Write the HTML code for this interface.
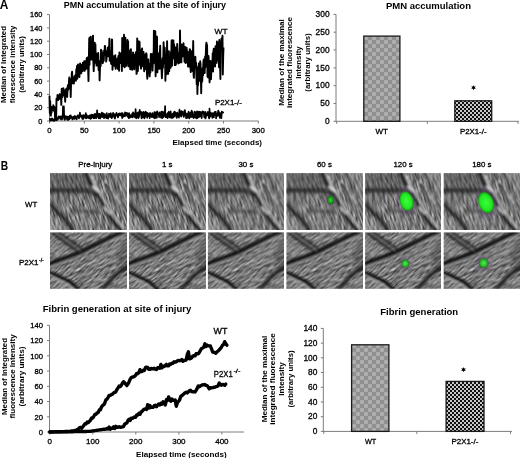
<!DOCTYPE html>
<html><head><meta charset="utf-8"><style>
html,body{margin:0;padding:0;background:#fff;}
svg{display:block;will-change:transform;}
text{font-family:"Liberation Sans",sans-serif;fill:#000;}
.r{stroke:#000;stroke-width:0.3px;}
</style></head><body>
<svg width="520" height="458" viewBox="0 0 520 458">
<defs>
<pattern id="pg" width="8" height="8" patternUnits="userSpaceOnUse"><rect width="8" height="8" fill="#909090"/><rect width="4" height="4" fill="#aaaaaa"/><rect x="4" y="4" width="4" height="4" fill="#aaaaaa"/><rect x="1" y="1" width="2" height="2" fill="#b4b4b4"/><rect x="5" y="5" width="2" height="2" fill="#b4b4b4"/></pattern>
<pattern id="pk" width="4" height="4" patternUnits="userSpaceOnUse"><rect width="4" height="4" fill="#c8c8c8"/><rect width="2" height="2" fill="#111"/><rect x="2" y="2" width="2" height="2" fill="#111"/></pattern>
<radialGradient id="gg"><stop offset="0" stop-color="#3cff3c"/><stop offset="0.75" stop-color="#22e622"/><stop offset="1" stop-color="#128c12"/></radialGradient>
<radialGradient id="gd"><stop offset="0" stop-color="#44c844"/><stop offset="0.6" stop-color="#1f9a1f"/><stop offset="1" stop-color="#176617"/></radialGradient>
<radialGradient id="gm"><stop offset="0" stop-color="#5ae65a"/><stop offset="0.6" stop-color="#2cc02c"/><stop offset="1" stop-color="#1a7a1a"/></radialGradient>
<filter id="pb" x="0" y="0" width="100%" height="100%"><feGaussianBlur stdDeviation="0.7"/></filter>
<filter id="bl1" x="-50%" y="-50%" width="200%" height="200%"><feGaussianBlur stdDeviation="0.6"/></filter>
<filter id="bl2" x="-50%" y="-50%" width="200%" height="200%"><feGaussianBlur stdDeviation="1.5"/></filter>
<filter id="n0" x="0" y="0" width="100%" height="100%" color-interpolation-filters="sRGB"><feTurbulence type="fractalNoise" baseFrequency="1.3 0.11" numOctaves="2" seed="5"/><feColorMatrix type="matrix" values="1 0 0 0 0  1 0 0 0 0  1 0 0 0 0  0 0 0 0 1" result="g"/><feConvolveMatrix order="3" kernelMatrix="0.6 0 0  0 0.5 0  0 0 -0.6" divisor="1" bias="0.235" preserveAlpha="true"/></filter>
<filter id="n1" x="0" y="0" width="100%" height="100%" color-interpolation-filters="sRGB"><feTurbulence type="fractalNoise" baseFrequency="1.5 0.11" numOctaves="2" seed="11"/><feColorMatrix type="matrix" values="1 0 0 0 0  1 0 0 0 0  1 0 0 0 0  0 0 0 0 1" result="g"/><feConvolveMatrix order="3" kernelMatrix="0.6 0 0  0 0.5 0  0 0 -0.6" divisor="1" bias="0.235" preserveAlpha="true"/></filter>
<filter id="sb" x="-10%" y="-10%" width="120%" height="120%"><feGaussianBlur stdDeviation="1.1"/></filter>
<filter id="sb2"><feGaussianBlur stdDeviation="4"/></filter>
<filter id="sb3" x="-10%" y="-20%" width="120%" height="140%"><feGaussianBlur stdDeviation="1.6"/></filter>
<clipPath id="tc"><rect width="76.3" height="56.5"/></clipPath>
<g id="tile0"><g transform="rotate(-16 38 28)"><rect x="-40" y="-40" width="160" height="140" filter="url(#n0)"/></g>
<g filter="url(#sb2)" opacity="0.45"><path d="M-5 -5 L45 -5 L40 22 L-5 22 Z" fill="#4a4a4a"/><path d="M-5 42 L-5 62 L16 62 Z" fill="#c8c8c8"/><path d="M60 -5 L82 -5 L82 30 Z" fill="#9a9a9a"/></g>
<g filter="url(#sb3)" fill="none" stroke-linecap="round" opacity="0.8">
<path d="M-1 17 L38 17.5 L46 21" stroke="#222" stroke-width="4.5"/>
<path d="M22 37.4 L48.9 38.9" stroke="#3c3c3c" stroke-width="2.5"/>
</g>
<g filter="url(#sb)" fill="none" stroke-linecap="round" opacity="0.9">
<path d="M36 0 L41.5 12 L48.9 24 L56.3 38 L64 49.2 L71 57" stroke="#111" stroke-width="3.2"/>
<path d="M39.5 0 L45 11 L52.5 23 L59.8 36 L67.5 47 L74.5 55" stroke="#d0d0d0" stroke-width="1.4"/>
<path d="M38.5 9.8 L49.3 22.5" stroke="#2a2a2a" stroke-width="1.8"/>
<path d="M51.5 0 L62.8 30" stroke="#333" stroke-width="1.5"/>
<path d="M60 0 L72 28 L77 37" stroke="#333" stroke-width="1.5"/>
<path d="M-1 30 L4.4 35.9 L14.8 46.3 L22.2 57" stroke="#141414" stroke-width="3"/>
<path d="M1 27 L7 34 L17 45 L24 56" stroke="#3a3a3a" stroke-width="1.2"/>
<path d="M43.3 13.5 L48.5 18" stroke="#f0f0f0" stroke-width="2.2"/>
<circle cx="42.5" cy="4.1" r="1.3" fill="#eee" stroke="none"/>
<circle cx="56" cy="8.3" r="1.2" fill="#e8e8e8" stroke="none"/>
<path d="M54 34 L60 40" stroke="#e0e0e0" stroke-width="1.6"/>
<path d="M66 22 L70 30" stroke="#d8d8d8" stroke-width="1.4"/>
</g></g>
<g id="tile1"><g transform="rotate(55 38 28)"><rect x="-40" y="-40" width="160" height="140" filter="url(#n1)"/></g>
<g filter="url(#sb2)" opacity="0.5"><path d="M68 10 L80 8 L80 40 L68 36 Z" fill="#404040"/></g>
<g filter="url(#sb)" fill="none" stroke-linecap="round" opacity="0.95">
<path d="M-2 35 L29.6 23.2 L48.9 13.6 L66.7 4.7 L79 -0.5" stroke="#c8c8c8" stroke-width="1.6"/>
<path d="M-2 32.6 L29.6 20.7 L48.9 11.1 L66.7 2.2 L79 -3" stroke="#080808" stroke-width="4.8"/>
<path d="M3 1 L29.6 19.8" stroke="#151515" stroke-width="2.8"/>
<path d="M7 -1 L31 16" stroke="#1a1a1a" stroke-width="2.6"/>
<path d="M5 0 L30 18" stroke="#9a9a9a" stroke-width="0.8"/>
<path d="M-2 39.8 L19.3 49.4 L28.6 58" stroke="#101010" stroke-width="3.8"/>
<path d="M-2 42.8 L17 52.5 L24 58" stroke="#c0c0c0" stroke-width="1.2"/>
<path d="M78 34 L63.7 44.4 L51.9 58" stroke="#1a1a1a" stroke-width="3.6"/>
</g></g>
</defs>
<text x="-0.3" y="8.7" font-size="12.5" font-weight="bold" textLength="8.6" lengthAdjust="spacingAndGlyphs">A</text>
<text x="63.8" y="7.8" font-size="9" font-weight="bold" textLength="162.3" lengthAdjust="spacingAndGlyphs">PMN accumulation at the site of injury</text>
<path d="M49.5 14.6V121.5M49.5 121H258.5" stroke="#7c7c7c" stroke-width="1" fill="none"/>
<text x="42.4" y="123.6" font-size="7.4" class="r" text-anchor="end">0</text>
<text x="42.4" y="110.3" font-size="7.4" class="r" text-anchor="end">20</text>
<text x="42.4" y="97" font-size="7.4" class="r" text-anchor="end">40</text>
<text x="42.4" y="83.7" font-size="7.4" class="r" text-anchor="end">60</text>
<text x="42.4" y="70.4" font-size="7.4" class="r" text-anchor="end">80</text>
<text x="42.4" y="57.1" font-size="7.4" class="r" text-anchor="end">100</text>
<text x="42.4" y="43.8" font-size="7.4" class="r" text-anchor="end">120</text>
<text x="42.4" y="30.5" font-size="7.4" class="r" text-anchor="end">140</text>
<text x="42.4" y="17.2" font-size="7.4" class="r" text-anchor="end">160</text>
<text x="49.5" y="133.4" font-size="7.8" class="r" text-anchor="middle">0</text>
<text x="84.3" y="133.4" font-size="7.8" class="r" text-anchor="middle">50</text>
<text x="119.1" y="133.4" font-size="7.8" class="r" text-anchor="middle">100</text>
<text x="153.9" y="133.4" font-size="7.8" class="r" text-anchor="middle">150</text>
<text x="188.7" y="133.4" font-size="7.8" class="r" text-anchor="middle">200</text>
<text x="223.5" y="133.4" font-size="7.8" class="r" text-anchor="middle">250</text>
<text x="258.3" y="133.4" font-size="7.8" class="r" text-anchor="middle">300</text>
<path d="M47 121H49.5M47 107.7H49.5M47 94.4H49.5M47 81.1H49.5M47 67.8H49.5M47 54.5H49.5M47 41.2H49.5M47 27.9H49.5M47 14.6H49.5M49.5 121V123.5M84.3 121V123.5M119.1 121V123.5M153.9 121V123.5M188.7 121V123.5M223.5 121V123.5M258.3 121V123.5" stroke="#7c7c7c" stroke-width="1"/>
<text x="172.5" y="144.5" font-size="8" font-weight="bold" textLength="89.5" lengthAdjust="spacingAndGlyphs">Elapsed time (seconds)</text>
<text x="6.1" y="64.5" font-size="8" font-weight="bold" text-anchor="middle" textLength="77" lengthAdjust="spacingAndGlyphs" transform="rotate(-90 6.1 64.5)">Median of Integrated</text>
<text x="15.3" y="64.5" font-size="8" font-weight="bold" text-anchor="middle" textLength="77.7" lengthAdjust="spacingAndGlyphs" transform="rotate(-90 15.3 64.5)">florescence intensity</text>
<text x="24.3" y="64.5" font-size="8" font-weight="bold" text-anchor="middle" textLength="56.5" lengthAdjust="spacingAndGlyphs" transform="rotate(-90 24.3 64.5)">(arbitrary units)</text>
<polyline points="49.5,119.3 49.8,118.9 50.1,120.2 50.4,120.8 50.8,118.9 51.1,120.2 51.4,120.3 51.7,119.7 52,118.4 52.3,119.3 52.6,120.4 52.9,119.4 53.3,120.8 53.6,119.8 53.9,119.3 54.2,119.7 54.5,120.8 54.8,119.2 55.1,120 55.5,118.8 55.8,119.2 56.1,118.3 56.4,117.8 56.7,119.8 57,118.3 57.3,118.8 57.6,119.9 58,118.9 58.3,117 58.6,116.4 58.9,117.8 59.2,117.5 59.5,118.4 59.8,118.5 60.1,116.3 60.5,117.4 60.8,116.6 61.1,119.6 61.4,116.3 61.7,117.8 62,119.3 62.3,117.8 62.7,116.5 63,106.4 63.3,106.4 63.6,106.4 63.9,106.4 64.2,118.7 64.5,119.9 64.8,119.9 65.2,116 65.5,118.2 65.8,116.3 66.1,117.5 66.4,118.5 66.7,116.7 67,119.3 67.4,119.9 67.7,116.5 68,118.1 68.3,119.8 68.6,116.5 68.9,116.8 69.2,119 69.5,119.1 69.9,115.7 70.2,118.4 70.5,115.7 70.8,115.5 71.1,117.5 71.4,116.5 71.7,117.9 72.1,118 72.4,119.5 72.7,117.5 73,118.7 73.3,116.7 73.6,116.9 73.9,118.3 74.2,118.8 74.6,118.8 74.9,115.9 75.2,117 75.5,117 75.8,118.3 76.1,117.6 76.4,116.8 76.7,119.4 77.1,116.1 77.4,116.3 77.7,115.4 78,115.5 78.3,115.3 78.6,116.2 78.9,118.5 79.3,116.9 79.6,116.8 79.9,112.7 80.2,115.1 80.5,115.7 80.8,116.6 81.1,116.8 81.4,115.7 81.8,115.4 82.1,117.9 82.4,119 82.7,115.6 83,115.3 83.3,118.9 83.6,115.1 84,116.7 84.3,116.5 84.6,116.2 84.9,115.4 85.2,117.8 85.5,115.1 85.8,113.2 86.1,118.4 86.5,114.6 86.8,118.2 87.1,116.1 87.4,117.5 87.7,116 88,117.5 88.3,116.6 88.7,118.1 89,117 89.3,115.5 89.6,117.8 89.9,115.4 90.2,118.7 90.5,118.9 90.8,117.9 91.2,114.9 91.5,118.3 91.8,114.6 92.1,115.5 92.4,115.4 92.7,114.9 93,117.3 93.3,116.5 93.7,118.2 94,116.4 94.3,114.4 94.6,118.2 94.9,115.7 95.2,113.8 95.5,114.6 95.9,117 96.2,118.2 96.5,115 96.8,116.7 97.1,110.4 97.4,116.1 97.7,116.1 98,117 98.4,114 98.7,118.3 99,113.6 99.3,115.1 99.6,113.9 99.9,118.5 100.2,118.4 100.6,115.8 100.9,114.8 101.2,113.9 101.5,114.7 101.8,112.7 102.1,117.2 102.4,116.4 102.7,113.3 103.1,113.7 103.4,116.7 103.7,113.6 104,118.2 104.3,114 104.6,117.9 104.9,117.4 105.2,117.3 105.6,115.3 105.9,116.6 106.2,113.8 106.5,118.1 106.8,113.1 107.1,117.5 107.4,117.6 107.8,115.9 108.1,118.6 108.4,115.3 108.7,117.4 109,113.6 109.3,113.9 109.6,114.6 109.9,114.7 110.3,116.9 110.6,114.2 110.9,113.2 111.2,116.7 111.5,117.8 111.8,118.1 112.1,115.2 112.5,117 112.8,114.4 113.1,112.9 113.4,116.1 113.7,113.6 114,114.6 114.3,115.3 114.6,118.2 115,118.5 115.3,115.7 115.6,114.2 115.9,114.1 116.2,115.1 116.5,112.8 116.8,115.7 117.2,115.1 117.5,114.9 117.8,117.3 118.1,117.3 118.4,113.8 118.7,115 119,115.6 119.3,113.4 119.7,114.5 120,115 120.3,113.8 120.6,115.5 120.9,115.3 121.2,113.3 121.5,113.1 121.8,115.6 122.2,118.2 122.5,113 122.8,114.9 123.1,114.1 123.4,115.8 123.7,116.6 124,115.7 124.4,116.2 124.7,116.1 125,112.4 125.3,116 125.6,112.8 125.9,114 126.2,112.9 126.5,115.2 126.9,115.7 127.2,113.1 127.5,113.5 127.8,116 128.1,117.1 128.4,113.8 128.7,118.1 129.1,113.1 129.4,118 129.7,116.8 130,115.9 130.3,116.7 130.6,115 130.9,117.1 131.2,116.5 131.6,116.7 131.9,115.6 132.2,113.7 132.5,117.5 132.8,113.3 133.1,112.3 133.4,114.3 133.8,113.4 134.1,116.7 134.4,115.1 134.7,115.4 135,117.5 135.3,117.2 135.6,109 135.9,117.3 136.3,118.3 136.6,117.3 136.9,113 137.2,114.2 137.5,115.6 137.8,117.3 138.1,112.3 138.4,118.1 138.8,114.3 139.1,116.9 139.4,112.3 139.7,109.8 140,112.1 140.3,114.2 140.6,113.7 141,111.8 141.3,116.1 141.6,118.3 141.9,113.6 142.2,112.5 142.5,116 142.8,117.5 143.1,116.3 143.5,111.9 143.8,112.1 144.1,112.4 144.4,118.3 144.7,116.6 145,112.7 145.3,116.9 145.7,111.7 146,113.4 146.3,112.6 146.6,114.7 146.9,114.5 147.2,117.8 147.5,112.9 147.8,116.1 148.2,115.1 148.5,116.3 148.8,113.8 149.1,115.6 149.4,113.3 149.7,118.2 150,113.2 150.4,113.1 150.7,115 151,115.1 151.3,116.1 151.6,116.8 151.9,117.1 152.2,115 152.5,113 152.9,116.4 153.2,114.6 153.5,117.4 153.8,114.9 154.1,117.9 154.4,112 154.7,118.3 155,115.6 155.4,117.8 155.7,112.4 156,115 156.3,116 156.6,115.5 156.9,117.8 157.2,111.4 157.6,113.6 157.9,114.2 158.2,114 158.5,114.3 158.8,114.1 159.1,117.2 159.4,112.4 159.7,114.4 160.1,115.4 160.4,115.6 160.7,113.3 161,117.6 161.3,111.6 161.6,116.6 161.9,112.2 162.3,118.1 162.6,117 162.9,111.6 163.2,117.1 163.5,114.6 163.8,115.2 164.1,115.8 164.4,112.9 164.8,112.5 165.1,106 165.4,117.2 165.7,113.6 166,117.2 166.3,116.3 166.6,116.8 166.9,115 167.3,114.1 167.6,118.2 167.9,112.9 168.2,115.4 168.5,115.4 168.8,111.7 169.1,113 169.5,117.4 169.8,114 170.1,117.4 170.4,114.9 170.7,111.3 171,117.5 171.3,117.7 171.6,116 172,118.2 172.3,114 172.6,114.3 172.9,114.3 173.2,113.5 173.5,117.3 173.8,115.4 174.2,111.9 174.5,116.5 174.8,111.5 175.1,115.7 175.4,115.5 175.7,112.9 176,115.2 176.3,115.3 176.7,118 177,114.3 177.3,112.6 177.6,116.7 177.9,116.2 178.2,115.7 178.5,113.8 178.9,117.7 179.2,112.9 179.5,109.7 179.8,114.2 180.1,115.9 180.4,114.2 180.7,113.3 181,111.4 181.4,116.6 181.7,111.2 182,114 182.3,111.5 182.6,114.7 182.9,113.3 183.2,113.9 183.5,114.5 183.9,117 184.2,111 184.5,115.3 184.8,110 185.1,111.5 185.4,113.8 185.7,113 186.1,118.3 186.4,113.9 186.7,117.4 187,116 187.3,117.9 187.6,113.6 187.9,114 188.2,116.6 188.6,111.5 188.9,113.8 189.2,118.4 189.5,118 189.8,113.4 190.1,112.8 190.4,117.2 190.8,112.3 191.1,116.7 191.4,115.6 191.7,110.5 192,117.1 192.3,114.8 192.6,112 192.9,116.5 193.3,114.8 193.6,118.2 193.9,114.3 194.2,114.8 194.5,115.3 194.8,111.6 195.1,117.4 195.5,112.4 195.8,113.2 196.1,117 196.4,118.4 196.7,117.1 197,111.4 197.3,118.1 197.6,113.7 198,111.8 198.3,115.8 198.6,116.4 198.9,117.3 199.2,111.5 199.5,115.2 199.8,116.4 200.1,116.5 200.5,116.1 200.8,111.8 201.1,112.7 201.4,115.8 201.7,118.1 202,114 202.3,113.7 202.7,111.4 203,112.7 203.3,111.5 203.6,112.2 203.9,114 204.2,117.1 204.5,116.5 204.8,117.6 205.2,111.8 205.5,118.5 205.8,117.6 206.1,114.3 206.4,115.5 206.7,113.7 207,115.7 207.4,112 207.7,113.3 208,112.1 208.3,114.9 208.6,113.7 208.9,117.6 209.2,118.4 209.5,108.7 209.9,117 210.2,115.2 210.5,116.3 210.8,112.7 211.1,114.5 211.4,114.7 211.7,115.5 212.1,115.8 212.4,117.8 212.7,113 213,116.7 213.3,113.4 213.6,115.6 213.9,117.3 214.2,113.4 214.6,112.2 214.9,115.2 215.2,111.9 215.5,113.5 215.8,111.8 216.1,118.4 216.4,114.2 216.7,115 217.1,114.6 217.4,116 217.7,114.2 218,111.8 218.3,110.5 218.6,111.6 218.9,112.3 219.3,116.5 219.6,116.5 219.9,118 220.2,113.2 220.5,117.6 220.8,116.5 221.1,113.2 221.4,118.2 221.8,111.5 222.1,113 222.4,112.3 222.7,112.2 223,112.3 223.3,113.4" fill="none" stroke="#000" stroke-width="1.7" stroke-linejoin="round"/>
<polyline points="49.5,95.7 49.8,113 50.2,101 50.5,115 50.9,115.6 51.2,106.7 51.6,112.4 51.9,107.7 52.3,110 52.6,107.3 53,108.9 53.3,105.3 53.7,110.6 54,106.6 54.4,106.9 54.7,109.4 55.1,119 55.4,119.3 55.8,118.4 56.1,120.2 56.5,98.6 56.8,99.2 57.2,100.3 57.5,94.9 57.9,95.7 58.2,100.1 58.5,96.9 58.9,99.3 59.2,98.9 59.6,94.2 59.9,94.2 60.3,95.2 60.6,96.9 61,97.7 61.3,104.9 61.7,88.7 62,94.2 62.4,97.3 62.7,91 63.1,92.8 63.4,88.2 63.8,93.5 64.1,95 64.5,95.9 64.8,93.9 65.2,101.8 65.5,89.7 65.9,92.9 66.2,90.2 66.6,88.4 66.9,89.1 67.2,96.9 67.6,88.2 67.9,85.1 68.3,89.8 68.6,88.1 69,80.7 69.3,77.5 69.7,88.4 70,79 70.4,80.6 70.7,97 71.1,82.3 71.4,84.4 71.8,73.4 72.1,71.8 72.5,80.8 72.8,83 73.2,81.9 73.5,80.6 73.9,83.6 74.2,77.4 74.6,76.1 74.9,80.4 75.3,75.3 75.6,77.5 75.9,80.7 76.3,69.1 76.6,75 77,65.9 77.3,78.8 77.7,65.3 78,64.5 78.4,71.1 78.7,73 79.1,76.6 79.4,77.1 79.8,68 80.1,63.4 80.5,66.6 80.8,68 81.2,73.4 81.5,71.2 81.9,64.7 82.2,70 82.6,71.1 82.9,62.6 83.3,68.5 83.6,67.8 84,62.6 84.3,61.1 84.6,70.9 85,65.7 85.3,61.1 85.7,69.2 86,64.4 86.4,68.5 86.7,58.4 87.1,57.8 87.4,67.2 87.8,57.5 88.1,68.3 88.5,81.1 88.8,62.7 89.2,38.3 89.5,64.7 89.9,39 90.2,37.5 90.6,36.8 90.9,59.6 91.3,58.6 91.6,54.6 92,59.6 92.3,54.3 92.7,36.6 93,35.6 93.3,60 93.7,71.1 94,63.4 94.4,60.6 94.7,42.6 95.1,52.6 95.4,44.2 95.8,63 96.1,53.2 96.5,65.6 96.8,54.3 97.2,65.6 97.5,59.4 97.9,55.7 98.2,52.9 98.6,70.1 98.9,60.8 99.3,63.6 99.6,80.4 100,68.2 100.3,61.2 100.7,66 101,49.7 101.4,52.1 101.7,50.7 102,56.4 102.4,57.5 102.7,63.3 103.1,61.3 103.4,52.9 103.8,60.7 104.1,50.5 104.5,55 104.8,46 105.2,46.3 105.5,54.7 105.9,51.6 106.2,61.6 106.6,57.9 106.9,51.8 107.3,50.8 107.6,50.5 108,47.5 108.3,56.4 108.7,48.8 109,50.9 109.4,38.6 109.7,60.7 110.1,51.2 110.4,51.5 110.7,57.1 111.1,63.7 111.4,63.9 111.8,39.5 112.1,39.6 112.5,69.8 112.8,62.6 113.2,60.6 113.5,63.8 113.9,56.1 114.2,64.3 114.6,66 114.9,61.5 115.3,55.2 115.6,68.7 116,63.2 116.3,62.2 116.7,59.3 117,60.4 117.4,58.5 117.7,68.9 118.1,67.3 118.4,55.9 118.8,66 119.1,70.7 119.4,52.5 119.8,58.5 120.1,55.1 120.5,63.1 120.8,63 121.2,53.3 121.5,53 121.9,71 122.2,37.9 122.6,62.4 122.9,38.3 123.3,54.7 123.6,66.2 124,34.8 124.3,58.9 124.7,67.2 125,63.7 125.4,37.8 125.7,53.1 126.1,46.5 126.4,65.7 126.8,59.7 127.1,56.1 127.5,40 127.8,42.3 128.1,41.3 128.5,66.4 128.8,50.1 129.2,51.1 129.5,63.6 129.9,53.9 130.2,69.3 130.6,53.3 130.9,49.3 131.3,69 131.6,67.6 132,66.1 132.3,69.8 132.7,67.8 133,52.4 133.4,60.6 133.7,67.4 134.1,62.1 134.4,69.3 134.8,54.7 135.1,61.6 135.5,54.8 135.8,52.4 136.2,52 136.5,73.9 136.8,73 137.2,38.4 137.5,50.9 137.9,71.1 138.2,57.9 138.6,41.6 138.9,41.2 139.3,42.4 139.6,42 140,64.9 140.3,50.7 140.7,66.7 141,68.7 141.4,56.4 141.7,49.5 142.1,48.4 142.4,58.9 142.8,66.2 143.1,62.2 143.5,51.9 143.8,65.7 144.2,71.2 144.5,54.4 144.9,55.1 145.2,59 145.5,63.9 145.9,69.1 146.2,53.3 146.6,54.3 146.9,73.1 147.3,78.8 147.6,74.7 148,63.6 148.3,59.4 148.7,72.5 149,72.4 149.4,71.9 149.7,76.4 150.1,63.5 150.4,72.6 150.8,53.9 151.1,53.9 151.5,56.6 151.8,64.8 152.2,54.7 152.5,70.6 152.9,62.1 153.2,53.1 153.6,63.3 153.9,30.6 154.2,54.9 154.6,35.6 154.9,35.6 155.3,31.3 155.6,76.2 156,36.1 156.3,39.6 156.7,70.6 157,36.8 157.4,72.4 157.7,53.1 158.1,53.1 158.4,58.8 158.8,59.8 159.1,68.9 159.5,63.1 159.8,53.9 160.2,45.8 160.5,68.5 160.9,65.6 161.2,60 161.6,71.2 161.9,78.3 162.3,69.9 162.6,58 162.9,67.9 163.3,59.7 163.6,42.2 164,63 164.3,63 164.7,47.6 165,54.3 165.4,80.8 165.7,57.2 166.1,69.5 166.4,74.4 166.8,63.1 167.1,41.3 167.5,72.4 167.8,52.1 168.2,73.9 168.5,54.4 168.9,51.3 169.2,71.1 169.6,61.6 169.9,57.4 170.3,66.1 170.6,67.9 171,52 171.3,55.5 171.6,40.5 172,65.8 172.3,40.1 172.7,51 173,58.2 173.4,40.4 173.7,53.1 174.1,44.5 174.4,51 174.8,65.1 175.1,63.4 175.5,47.5 175.8,65 176.2,61.6 176.5,60.4 176.9,51.7 177.2,43.9 177.6,51.6 177.9,61.9 178.3,63.5 178.6,53.1 179,56.1 179.3,62.1 179.7,62.7 180,30.5 180.3,50.6 180.7,62 181,60.4 181.4,62.4 181.7,44.4 182.1,47 182.4,56.6 182.8,50.2 183.1,49.2 183.5,43.3 183.8,48.2 184.2,52.8 184.5,61.8 184.9,46.9 185.2,46.9 185.6,63.1 185.9,61.1 186.3,62.5 186.6,47.6 187,52.3 187.3,51.4 187.7,56.1 188,66.5 188.4,55.4 188.7,52.2 189,66.5 189.4,62.9 189.7,49.1 190.1,49.6 190.4,67 190.8,72.1 191.1,59.2 191.5,57.9 191.8,51.2 192.2,70.3 192.5,71 192.9,55.9 193.2,40.9 193.6,75.7 193.9,77.9 194.3,65.7 194.6,66.6 195,65.9 195.3,56.6 195.7,64.7 196,62.6 196.4,75.6 196.7,84.3 197.1,67.3 197.4,94 197.7,79.9 198.1,84.9 198.4,72.9 198.8,63.4 199.1,76.5 199.5,80.9 199.8,75.2 200.2,61.3 200.5,63.8 200.9,79.2 201.2,93.3 201.6,71 201.9,82.1 202.3,80.7 202.6,67.9 203,75.4 203.3,64.1 203.7,59.4 204,61 204.4,72.3 204.7,73.1 205.1,56.4 205.4,67.3 205.8,54.4 206.1,45.1 206.4,42.6 206.8,44.7 207.1,45.5 207.5,76.7 207.8,61 208.2,77.6 208.5,56 208.9,61.6 209.2,72.2 209.6,82.4 209.9,65.4 210.3,79.4 210.6,60.9 211,79.1 211.3,72.5 211.7,66.2 212,66.9 212.4,63.6 212.7,53.2 213.1,71.5 213.4,51.4 213.8,48.6 214.1,61.6 214.5,51.1 214.8,65.1 215.1,66.5 215.5,46.2 215.8,53.1 216.2,50.9 216.5,62.9 216.9,41.5 217.2,57.9 217.6,44 217.9,42.6 218.3,60.5 218.6,57.3 219,67.3 219.3,39.9 219.7,61.1 220,59.9 220.4,79.1 220.7,48 221.1,46.6 221.4,38.8 221.8,45.6 222.1,43.6 222.5,35.7 222.8,74.6 223.2,56.4 223.5,47.4" fill="none" stroke="#000" stroke-width="1.9" stroke-linejoin="round"/>
<text x="214.6" y="34.1" font-size="7.8" class="r" textLength="12.9" lengthAdjust="spacingAndGlyphs">WT</text>
<text x="214.9" y="105" font-size="7.8" class="r" textLength="26.9" lengthAdjust="spacingAndGlyphs">P2X1-/-</text>
<path d="M336 14.4V121.8M336 121.3H519" stroke="#7c7c7c" stroke-width="1" fill="none"/>
<text x="329.6" y="124" font-size="8.4" class="r" text-anchor="end">0</text>
<text x="329.6" y="106.2" font-size="8.4" class="r" text-anchor="end">50</text>
<text x="329.6" y="88.4" font-size="8.4" class="r" text-anchor="end">100</text>
<text x="329.6" y="70.6" font-size="8.4" class="r" text-anchor="end">150</text>
<text x="329.6" y="52.7" font-size="8.4" class="r" text-anchor="end">200</text>
<text x="329.6" y="34.9" font-size="8.4" class="r" text-anchor="end">250</text>
<text x="329.6" y="17.1" font-size="8.4" class="r" text-anchor="end">300</text>
<path d="M333.5 121.3H336M333.5 103.5H336M333.5 85.7H336M333.5 67.9H336M333.5 50H336M333.5 32.2H336M333.5 14.4H336M336.7 121.3V123.8M427.3 121.3V123.8M517.9 121.3V123.8" stroke="#7c7c7c" stroke-width="1"/>
<rect x="363.8" y="36.1" width="36.1" height="85.2" fill="url(#pg)" filter="url(#pb)"/>
<rect x="363.8" y="36.1" width="36.1" height="85.2" fill="none" stroke="#1a1a1a" stroke-width="1.3"/>
<rect x="454.8" y="100.8" width="36.9" height="20.5" fill="url(#pk)"/>
<rect x="454.8" y="100.8" width="36.9" height="20.5" fill="none" stroke="#1a1a1a" stroke-width="1.3"/>
<text x="385.9" y="8.9" font-size="9.3" font-weight="bold" textLength="85.1" lengthAdjust="spacingAndGlyphs">PMN accumulation</text>
<text x="284.2" y="62.5" font-size="8" font-weight="bold" text-anchor="middle" textLength="86.6" lengthAdjust="spacingAndGlyphs" transform="rotate(-90 284.2 62.5)">Median of the maximal</text>
<text x="292.3" y="62.5" font-size="8" font-weight="bold" text-anchor="middle" textLength="91" lengthAdjust="spacingAndGlyphs" transform="rotate(-90 292.3 62.5)">integrated fluorescence</text>
<text x="301" y="62.5" font-size="8" font-weight="bold" text-anchor="middle" textLength="32.5" lengthAdjust="spacingAndGlyphs" transform="rotate(-90 301 62.5)">Intensity</text>
<text x="309.5" y="62.5" font-size="8" font-weight="bold" text-anchor="middle" textLength="58.3" lengthAdjust="spacingAndGlyphs" transform="rotate(-90 309.5 62.5)">(arbitrary units)</text>
<polygon points="473.5,85 472.9,86.6 471.2,86.4 472.2,87.7 471.2,89 472.9,88.8 473.5,90.4 474.1,88.8 475.8,89 474.8,87.7 475.8,86.4 474.1,86.6" fill="#000"/>
<text x="375.5" y="133.6" font-size="7.8" class="r" textLength="12.4" lengthAdjust="spacingAndGlyphs">WT</text>
<text x="460" y="133.6" font-size="7.8" class="r" textLength="26.5" lengthAdjust="spacingAndGlyphs">P2X1-/-</text>
<text x="0.8" y="170.4" font-size="12.8" font-weight="bold" textLength="7.4" lengthAdjust="spacingAndGlyphs">B</text>
<text x="78.2" y="166.6" font-size="7.9" class="r" textLength="34.1" lengthAdjust="spacingAndGlyphs">Pre-injury</text>
<text x="167.2" y="166.8" font-size="7.9" class="r" text-anchor="middle">1 s</text>
<text x="245.9" y="166.8" font-size="7.9" class="r" text-anchor="middle">30 s</text>
<text x="324.4" y="166.8" font-size="7.9" class="r" text-anchor="middle">60 s</text>
<text x="403.1" y="166.8" font-size="7.9" class="r" text-anchor="middle">120 s</text>
<text x="481.9" y="166.8" font-size="7.9" class="r" text-anchor="middle">180 s</text>
<text x="25.1" y="207.1" font-size="7.8" class="r" textLength="12.1" lengthAdjust="spacingAndGlyphs">WT</text>
<text x="19" y="264.7" font-size="7.8" class="r" textLength="19.5" lengthAdjust="spacingAndGlyphs">P2X1</text><text x="39" y="261.5" font-size="5" class="r">-/-</text>
<g transform="translate(50 173.1)"><svg width="76.3" height="56.7" viewBox="0 0 76.3 56.5" preserveAspectRatio="none"><use href="#tile0"/></svg></g>
<g transform="translate(129 173.1)"><svg width="76.4" height="56.7" viewBox="0 0 76.3 56.5" preserveAspectRatio="none"><use href="#tile0"/></svg></g>
<g transform="translate(207.9 173.1)"><svg width="75.9" height="56.7" viewBox="0 0 76.3 56.5" preserveAspectRatio="none"><use href="#tile0"/></svg></g>
<g transform="translate(286.4 173.1)"><svg width="76" height="56.7" viewBox="0 0 76.3 56.5" preserveAspectRatio="none"><use href="#tile0"/></svg></g>
<g transform="translate(365.1 173.1)"><svg width="75.9" height="56.7" viewBox="0 0 76.3 56.5" preserveAspectRatio="none"><use href="#tile0"/></svg></g>
<g transform="translate(443.7 173.1)"><svg width="76.3" height="56.7" viewBox="0 0 76.3 56.5" preserveAspectRatio="none"><use href="#tile0"/></svg></g>
<g transform="translate(50 232.4)"><svg width="76.3" height="55.9" viewBox="0 0 76.3 56.5" preserveAspectRatio="none"><use href="#tile1"/></svg></g>
<g transform="translate(129 232.4)"><svg width="76.4" height="55.9" viewBox="0 0 76.3 56.5" preserveAspectRatio="none"><use href="#tile1"/></svg></g>
<g transform="translate(207.9 232.4)"><svg width="75.9" height="55.9" viewBox="0 0 76.3 56.5" preserveAspectRatio="none"><use href="#tile1"/></svg></g>
<g transform="translate(286.4 232.4)"><svg width="76" height="55.9" viewBox="0 0 76.3 56.5" preserveAspectRatio="none"><use href="#tile1"/></svg></g>
<g transform="translate(365.1 232.4)"><svg width="75.9" height="55.9" viewBox="0 0 76.3 56.5" preserveAspectRatio="none"><use href="#tile1"/></svg></g>
<g transform="translate(443.7 232.4)"><svg width="76.3" height="55.9" viewBox="0 0 76.3 56.5" preserveAspectRatio="none"><use href="#tile1"/></svg></g>
<g transform="rotate(0 330.6 200.1)"><ellipse cx="330.6" cy="200.1" rx="5.4" ry="6.3" fill="#6a4a7a" opacity="0.55" filter="url(#bl2)"/><ellipse cx="330.6" cy="200.1" rx="3.7" ry="4.5" fill="url(#gd)" filter="url(#bl1)"/></g>
<g transform="rotate(-15 406.5 201.1)"><ellipse cx="406.5" cy="201.1" rx="9.9" ry="14" fill="#6a4a7a" opacity="0.35" filter="url(#bl2)"/><ellipse cx="406.5" cy="201.1" rx="6.8" ry="10" fill="url(#gg)" filter="url(#bl1)"/></g>
<g transform="rotate(-20 486 202.6)"><ellipse cx="486" cy="202.6" rx="11" ry="15.4" fill="#6a4a7a" opacity="0.35" filter="url(#bl2)"/><ellipse cx="486" cy="202.6" rx="7.6" ry="11" fill="url(#gg)" filter="url(#bl1)"/></g>
<g transform="rotate(0 405.3 263.6)"><ellipse cx="405.3" cy="263.6" rx="5.7" ry="5.6" fill="#6a4a7a" opacity="0.5" filter="url(#bl2)"/><ellipse cx="405.3" cy="263.6" rx="3.9" ry="4" fill="url(#gm)" filter="url(#bl1)"/></g>
<g transform="rotate(0 483.7 263.1)"><ellipse cx="483.7" cy="263.1" rx="7" ry="7" fill="#6a4a7a" opacity="0.45" filter="url(#bl2)"/><ellipse cx="483.7" cy="263.1" rx="4.8" ry="5" fill="url(#gm)" filter="url(#bl1)"/></g>
<text x="42.7" y="311.8" font-size="9.5" font-weight="bold" textLength="148.6" lengthAdjust="spacingAndGlyphs">Fibrin generation at site of injury</text>
<path d="M49.5 325.3V432.5M49.5 432H244" stroke="#7c7c7c" stroke-width="1" fill="none"/>
<text x="42.9" y="434.7" font-size="7.6" class="r" text-anchor="end">0</text>
<text x="42.9" y="419.5" font-size="7.6" class="r" text-anchor="end">20</text>
<text x="42.9" y="404.2" font-size="7.6" class="r" text-anchor="end">40</text>
<text x="42.9" y="389" font-size="7.6" class="r" text-anchor="end">60</text>
<text x="42.9" y="373.7" font-size="7.6" class="r" text-anchor="end">80</text>
<text x="42.9" y="358.5" font-size="7.6" class="r" text-anchor="end">100</text>
<text x="42.9" y="343.3" font-size="7.6" class="r" text-anchor="end">120</text>
<text x="42.9" y="328" font-size="7.6" class="r" text-anchor="end">140</text>
<text x="49.8" y="444.4" font-size="8" class="r" text-anchor="middle">0</text>
<text x="92.8" y="444.4" font-size="8" class="r" text-anchor="middle">100</text>
<text x="135.8" y="444.4" font-size="8" class="r" text-anchor="middle">200</text>
<text x="178.9" y="444.4" font-size="8" class="r" text-anchor="middle">300</text>
<text x="221.9" y="444.4" font-size="8" class="r" text-anchor="middle">400</text>
<path d="M47 432H49.5M47 416.8H49.5M47 401.5H49.5M47 386.3H49.5M47 371H49.5M47 355.8H49.5M47 340.6H49.5M47 325.3H49.5M49.8 432V434.5M92.8 432V434.5M135.8 432V434.5M178.9 432V434.5M221.9 432V434.5" stroke="#7c7c7c" stroke-width="1"/>
<text x="136" y="457" font-size="8" font-weight="bold" textLength="90.6" lengthAdjust="spacingAndGlyphs">Elapsed time (seconds)</text>
<text x="6.7" y="376.5" font-size="8" font-weight="bold" text-anchor="middle" textLength="77" lengthAdjust="spacingAndGlyphs" transform="rotate(-90 6.7 376.5)">Median of Integrated</text>
<text x="15.3" y="376.5" font-size="8" font-weight="bold" text-anchor="middle" textLength="84.2" lengthAdjust="spacingAndGlyphs" transform="rotate(-90 15.3 376.5)">fluorescence Intensity</text>
<text x="23.6" y="376.5" font-size="8" font-weight="bold" text-anchor="middle" textLength="60" lengthAdjust="spacingAndGlyphs" transform="rotate(-90 23.6 376.5)">(arbitrary units)</text>
<polyline points="49.8,432 50.9,432 52,432 53.1,432 54.2,431.9 55.3,431.9 56.4,431.9 57.5,431.9 58.6,431.9 59.7,431.9 60.8,431.8 61.9,431.8 63,431.8 64.1,431.8 65.2,431.8 66.3,431.8 67.4,431.7 68.5,431.7 69.6,431.7 70.7,431.7 71.8,431.7 72.9,431.7 74,431.6 75.1,431.6 76.2,431.6 77.3,431.6 78.4,431.6 79.5,431.6 80.6,431.5 81.7,431.5 82.8,431.5 83.9,431.5 85,431.5 86.1,431.5 87.2,431.4 88.3,431.4 89.4,431.4 90.5,431.3 91.6,431.1 92.7,430.9 93.8,430.8 94.9,430.6 96,430.4 97.1,430.3 98.2,430.1 99.3,429.9 100.4,429.8 101.5,429.6 102.6,429.4 103.7,429.3 104.8,429.2 105.9,429.1 107,428.4 108.1,429 109.2,427.1 110.3,429.2 111.4,428.3 112.5,428.4 113.6,426.9 114.7,428.5 115.8,426.4 116.9,427 118,427.3 119.1,426.7 120.2,427.2 121.3,427.2 122.4,426.8 123.5,426.6 124.6,424.2 125.7,423.5 126.8,423 127.9,420.6 129,419.2 130.1,420.5 131.2,418.3 132.3,418.4 133.4,417.8 134.5,416.9 135.6,417.3 136.7,414.9 137.8,415 138.9,413.3 140,414.3 141.1,412 142.2,411.3 143.3,409.9 144.4,409.1 145.5,408.8 146.6,409.4 147.7,404.7 148.8,408.1 149.9,405.6 151,407.5 152.1,407.1 153.2,407.4 154.3,405.7 155.4,405.3 156.5,406.7 157.6,405.1 158.7,404 159.8,404.9 160.9,403.2 162,404.2 163.1,401.8 164.2,402.7 165.3,404.9 166.4,399.8 167.5,400.4 168.6,396.9 169.7,399.4 170.8,401.2 171.9,399.1 173,400.1 174.1,400.5 175.2,400.1 176.3,406.3 177.4,402.5 178.5,401.3 179.6,400 180.7,396.5 181.8,395.8 182.9,394.8 184,393.8 185.1,392.7 186.2,392.2 187.3,392.9 188.4,391.8 189.5,390.7 190.6,390.3 191.7,391.6 192.8,391.8 193.9,391.6 195,392 196.1,390.4 197.2,388.3 198.3,385.9 199.4,386.7 200.5,385.9 201.6,385.3 202.7,384.8 203.8,384.9 204.9,384.5 206,385.4 207.1,385.7 208.2,387 209.3,388.8 210.4,387.8 211.5,387.9 212.6,387.6 213.7,387.3 214.8,387.2 215.9,386.7 217,386.4 218.1,385.8 219.2,383 220.3,384.7 221.4,385.2 222.5,384.4 223.6,384.8 224.7,385.3 225.8,384" fill="none" stroke="#000" stroke-width="3.4" stroke-linejoin="round" stroke-linecap="round"/>
<polyline points="49.8,432 50.9,432 52,431.9 53.1,431.9 54.2,431.9 55.3,431.8 56.4,431.8 57.5,431.8 58.6,431.7 59.7,431.7 60.8,431.7 61.9,431.6 63,431.6 64.1,431.6 65.2,431.5 66.3,431.5 67.4,431.5 68.5,431.4 69.6,431.4 70.7,431.3 71.8,431 72.9,430.8 74,430.6 75.1,430.3 76.2,430.1 77.3,429.7 78.4,429.1 79.5,427.7 80.6,427.5 81.7,428.2 82.8,426.8 83.9,425.4 85,423.8 86.1,423.9 87.2,422 88.3,422.6 89.4,421.4 90.5,420.1 91.6,418 92.7,418 93.8,416.3 94.9,414.5 96,414.4 97.1,412.8 98.2,412.5 99.3,410 100.4,409.8 101.5,406.9 102.6,405.4 103.7,404.8 104.8,403 105.9,399.7 107,399.2 108.1,397.4 109.2,395.4 110.3,395.4 111.4,394.6 112.5,394.2 113.6,392.9 114.7,392.3 115.8,391.9 116.9,389.5 118,388 119.1,386 120.2,386.5 121.3,385.3 122.4,383.2 123.5,381.7 124.6,382.8 125.7,384.1 126.8,385.6 127.9,384.1 129,381.9 130.1,379.4 131.2,377.6 132.3,377.2 133.4,376.8 134.5,376.4 135.6,375.3 136.7,373.5 137.8,373.6 138.9,372.5 140,369.7 141.1,371.7 142.2,371.4 143.3,370.3 144.4,370.5 145.5,367.5 146.6,367.2 147.7,367.4 148.8,369.3 149.9,369.4 151,368.4 152.1,368.8 153.2,368.9 154.3,368.2 155.4,369.2 156.5,369.5 157.6,367.8 158.7,367.8 159.8,368.3 160.9,364.5 162,367.8 163.1,366.2 164.2,366.5 165.3,365.5 166.4,364.4 167.5,365.9 168.6,365.8 169.7,364 170.8,364.3 171.9,363.3 173,363.4 174.1,361.8 175.2,362 176.3,361.8 177.4,360.8 178.5,360.5 179.6,360.7 180.7,360.3 181.8,359.5 182.9,361.3 184,360.5 185.1,360.3 186.2,360 187.3,354.5 188.4,351.8 189.5,358.9 190.6,358.4 191.7,357.8 192.8,356 193.9,355.6 195,355.9 196.1,353.7 197.2,353.6 198.3,353.9 199.4,352.3 200.5,350.2 201.6,348.5 202.7,348 203.8,347.2 204.9,343.8 206,346.5 207.1,345 208.2,345.8 209.3,345.9 210.4,346 211.5,348.8 212.6,351.9 213.7,352.4 214.8,352.5 215.9,353.2 217,351.8 218.1,351 219.2,349.9 220.3,348.6 221.4,347.2 222.5,345.2 223.6,344.5 224.7,341.7 225.8,343.8 226.9,345.1" fill="none" stroke="#000" stroke-width="3.4" stroke-linejoin="round" stroke-linecap="round"/>
<text x="213.5" y="333.6" font-size="8.2" class="r" textLength="13.9" lengthAdjust="spacingAndGlyphs">WT</text>
<text x="213.8" y="376.9" font-size="8.4" class="r" textLength="18.9" lengthAdjust="spacingAndGlyphs">P2X1</text><text x="233.4" y="373.4" font-size="5.2" class="r" textLength="7" lengthAdjust="spacingAndGlyphs">-/-</text>
<path d="M323.3 328.4V431.9M323.3 431.4H512" stroke="#7c7c7c" stroke-width="1" fill="none"/>
<text x="317.4" y="434.1" font-size="8.4" class="r" text-anchor="end">0</text>
<text x="317.4" y="419.4" font-size="8.4" class="r" text-anchor="end">20</text>
<text x="317.4" y="404.7" font-size="8.4" class="r" text-anchor="end">40</text>
<text x="317.4" y="390" font-size="8.4" class="r" text-anchor="end">60</text>
<text x="317.4" y="375.2" font-size="8.4" class="r" text-anchor="end">80</text>
<text x="317.4" y="360.5" font-size="8.4" class="r" text-anchor="end">100</text>
<text x="317.4" y="345.8" font-size="8.4" class="r" text-anchor="end">120</text>
<text x="317.4" y="331.1" font-size="8.4" class="r" text-anchor="end">140</text>
<path d="M320.8 431.4H323.3M320.8 416.7H323.3M320.8 402H323.3M320.8 387.3H323.3M320.8 372.5H323.3M320.8 357.8H323.3M320.8 343.1H323.3M320.8 328.4H323.3M323.8 431.4V433.9M416.8 431.4V433.9M510.5 431.4V433.9" stroke="#7c7c7c" stroke-width="1"/>
<rect x="351.6" y="344.8" width="37.3" height="86.6" fill="url(#pg)" filter="url(#pb)"/>
<rect x="351.6" y="344.8" width="37.3" height="86.6" fill="none" stroke="#1a1a1a" stroke-width="1.3"/>
<rect x="446.1" y="381.4" width="37.9" height="50" fill="url(#pk)"/>
<rect x="446.1" y="381.4" width="37.9" height="50" fill="none" stroke="#1a1a1a" stroke-width="1.3"/>
<text x="380.3" y="315" font-size="9.5" font-weight="bold" textLength="77.9" lengthAdjust="spacingAndGlyphs">Fibrin generation</text>
<text x="266.9" y="379" font-size="8" font-weight="bold" text-anchor="middle" textLength="86.7" lengthAdjust="spacingAndGlyphs" transform="rotate(-90 266.9 379)">Median of the maximal</text>
<text x="274.6" y="379" font-size="8" font-weight="bold" text-anchor="middle" textLength="91.5" lengthAdjust="spacingAndGlyphs" transform="rotate(-90 274.6 379)">integrated fluorescence</text>
<text x="284.3" y="379" font-size="8" font-weight="bold" text-anchor="middle" textLength="33.3" lengthAdjust="spacingAndGlyphs" transform="rotate(-90 284.3 379)">Intensity</text>
<text x="293" y="379" font-size="8" font-weight="bold" text-anchor="middle" textLength="57" lengthAdjust="spacingAndGlyphs" transform="rotate(-90 293 379)">(arbitrary units)</text>
<polygon points="463.5,366.9 462.9,368.5 461.2,368.2 462.2,369.6 461.2,371 462.9,370.7 463.5,372.3 464.1,370.7 465.8,371 464.8,369.6 465.8,368.2 464.1,368.5" fill="#000"/>
<text x="365" y="443.5" font-size="7.8" class="r" textLength="11.3" lengthAdjust="spacingAndGlyphs">WT</text>
<text x="451.4" y="443.5" font-size="7.8" class="r" textLength="27" lengthAdjust="spacingAndGlyphs">P2X1-/-</text>
</svg>
</body></html>
